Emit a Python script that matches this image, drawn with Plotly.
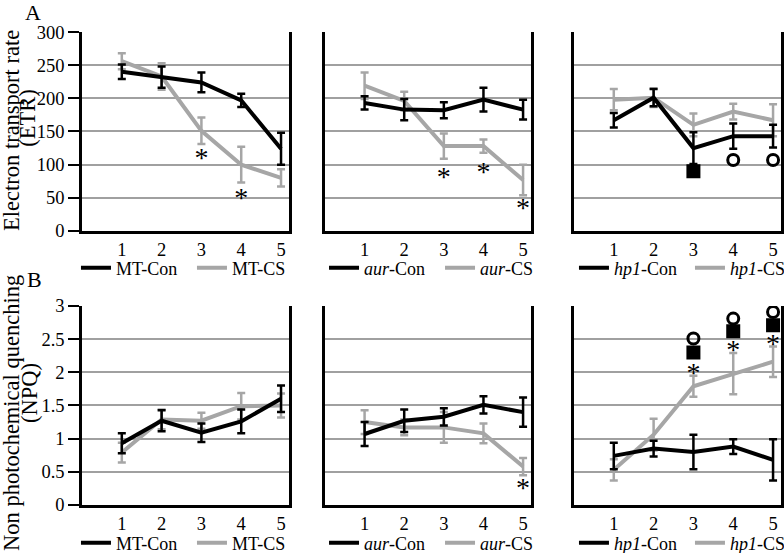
import plotly.graph_objects as go
from plotly.subplots import make_subplots

# x positions (time points)
days = [1, 2, 3, 4, 5]

# A: electron transport rate
etr_mt_con = [240, 232, 224, 197, 124]
etr_mt_con_err = [11, 16, 15, 10, 24]
etr_mt_cs = [256, 233, 151, 100, 80]
etr_mt_cs_err = [12, 20, 20, 27, 13]

etr_aur_con = [193, 183, 182, 198, 183]
etr_aur_con_err = [10, 16, 12, 18, 15]
etr_aur_cs = [219, 196, 128, 128, 77]
etr_aur_cs_err = [20, 14, 19, 10, 23]

etr_hp1_con = [167, 201, 125, 143, 143]
etr_hp1_con_err = [11, 13, 24, 19, 17]
etr_hp1_cs = [198, 201, 160, 180, 167]
etr_hp1_cs_err = [16, 14, 17, 12, 24]

# B: non photochemical quenching
npq_mt_con = [0.93, 1.27, 1.09, 1.26, 1.60]
npq_mt_con_err = [0.15, 0.16, 0.14, 0.18, 0.2]
npq_mt_cs = [0.79, 1.29, 1.27, 1.49, 1.50]
npq_mt_cs_err = [0.15, 0.15, 0.12, 0.2, 0.18]

npq_aur_con = [1.07, 1.27, 1.33, 1.51, 1.40]
npq_aur_con_err = [0.18, 0.17, 0.13, 0.13, 0.22]
npq_aur_cs = [1.25, 1.17, 1.17, 1.08, 0.58]
npq_aur_cs_err = [0.18, 0.12, 0.23, 0.15, 0.13]

npq_hp1_con = [0.74, 0.85, 0.80, 0.88, 0.68]
npq_hp1_con_err = [0.2, 0.12, 0.26, 0.11, 0.31]
npq_hp1_cs = [0.53, 1.06, 1.79, 1.98, 2.16]
npq_hp1_cs_err = [0.16, 0.24, 0.16, 0.31, 0.23]

# significance marks: (x, y) per panel (asterisk y = text anchor)
etr_mt_star = ([3, 4], [107, 47])
etr_aur_star = ([3, 4, 5], [78, 86, 31])
etr_hp1_square = ([3], [90])
etr_hp1_circle = ([4, 5], [107, 107])
npq_aur_star = ([5], [0.22])
npq_hp1_star = ([3, 4, 5], [1.96, 2.30, 2.40])
npq_hp1_square = ([3, 4, 5], [2.30, 2.62, 2.71])
npq_hp1_circle = ([3, 4, 5], [2.51, 2.81, 2.91])

strains = ["MT", "<i>aur</i>", "<i>hp1</i>"]

BLACK = "#000000"
GRAY = "#a6a6a6"
FONT = "Liberation Serif"

panels = [
    (1, 1, etr_mt_con, etr_mt_con_err, etr_mt_cs, etr_mt_cs_err),
    (1, 2, etr_aur_con, etr_aur_con_err, etr_aur_cs, etr_aur_cs_err),
    (1, 3, etr_hp1_con, etr_hp1_con_err, etr_hp1_cs, etr_hp1_cs_err),
    (2, 1, npq_mt_con, npq_mt_con_err, npq_mt_cs, npq_mt_cs_err),
    (2, 2, npq_aur_con, npq_aur_con_err, npq_aur_cs, npq_aur_cs_err),
    (2, 3, npq_hp1_con, npq_hp1_con_err, npq_hp1_cs, npq_hp1_cs_err),
]

fig = make_subplots(rows=2, cols=3)

for i, (r, c, con, con_err, cs, cs_err) in enumerate(panels):
    leg = "legend" if i == 0 else f"legend{i + 1}"
    name = strains[c - 1]
    fig.add_trace(go.Scatter(
        x=days, y=cs, mode="lines", name=name + "-CS",
        line=dict(color=GRAY, width=4),
        error_y=dict(type="data", array=cs_err, color=GRAY, thickness=2.5, width=4),
        legend=leg, legendrank=2,
    ), row=r, col=c)
    fig.add_trace(go.Scatter(
        x=days, y=con, mode="lines", name=name + "-Con",
        line=dict(color=BLACK, width=4),
        error_y=dict(type="data", array=con_err, color=BLACK, thickness=2.5, width=4),
        legend=leg, legendrank=1,
    ), row=r, col=c)


def add_stars(pos, r, c):
    fig.add_trace(go.Scatter(
        x=pos[0], y=pos[1], mode="text", text=["*"] * len(pos[0]),
        textfont=dict(family=FONT, size=28, color=BLACK),
        showlegend=False, hoverinfo="skip",
    ), row=r, col=c)


def add_marks(pos, symbol, r, c):
    fig.add_trace(go.Scatter(
        x=pos[0], y=pos[1], mode="markers",
        marker=dict(symbol=symbol, size=11, color=BLACK,
                    line=dict(color=BLACK, width=3)),
        showlegend=False, hoverinfo="skip",
    ), row=r, col=c)


add_stars(etr_mt_star, 1, 1)
add_stars(etr_aur_star, 1, 2)
add_marks(etr_hp1_square, "square", 1, 3)
add_marks(etr_hp1_circle, "circle-open", 1, 3)
add_stars(npq_aur_star, 2, 2)
add_stars(npq_hp1_star, 2, 3)
add_marks(npq_hp1_square, "square", 2, 3)
add_marks(npq_hp1_circle, "circle-open", 2, 3)

x_domains = [[0.1046, 0.3686], [0.4145, 0.6773], [0.7321, 0.9962]]
y_domains = [[0.5823, 0.9421], [0.0868, 0.4467]]
legend_x = [0.0969, 0.4133, 0.7321]

for r in (1, 2):
    for c in (1, 2, 3):
        fig.update_xaxes(
            domain=x_domains[c - 1], range=[0, 5.2],
            tickvals=days, ticks="", showgrid=False,
            showline=True, linecolor=BLACK, linewidth=2.5,
            tickfont=dict(family=FONT, size=18.5, color=BLACK),
            zeroline=False, fixedrange=True, automargin=False,
            row=r, col=c)
        if r == 1:
            yr, dt = [0, 300], 50
        else:
            yr, dt = [0, 3], 0.5
        fig.update_yaxes(
            domain=y_domains[r - 1], range=yr, dtick=dt,
            showgrid=True, gridcolor="#a0a0a0", gridwidth=1.5,
            showline=True, linecolor=BLACK, linewidth=2.5, mirror=True,
            ticks="outside" if c == 1 else "", ticklen=11, tickwidth=2,
            tickcolor=BLACK, showticklabels=(c == 1),
            tickfont=dict(family=FONT, size=18.5, color=BLACK),
            zeroline=False, fixedrange=True, automargin=False,
            row=r, col=c)

legend_style = dict(
    orientation="h", xanchor="left", yanchor="middle",
    font=dict(family=FONT, size=18, color=BLACK),
    bgcolor="rgba(0,0,0,0)", entrywidth=71, entrywidthmode="pixels",
    itemwidth=30, tracegroupgap=0,
)
layout_legends = {}
for i in range(6):
    key = "legend" if i == 0 else f"legend{i + 1}"
    r = i // 3
    c = i % 3
    layout_legends[key] = dict(
        legend_style,
        x=legend_x[c],
        y=0.5154 if r == 0 else 0.018,
    )

fig.update_layout(
    width=784, height=553,
    margin=dict(l=0, r=0, t=0, b=0, autoexpand=False),
    paper_bgcolor="white", plot_bgcolor="white",
    font=dict(family=FONT, size=18, color=BLACK),
    **layout_legends,
)

title_font = dict(family=FONT, size=22.5, color=BLACK)
for text, x, y in [
    ("Electron transport rate", 0.0153, 0.765),
    ("(ETR)", 0.0357, 0.787),
    ("Non photochemical quenching", 0.0153, 0.2532),
    ("(NPQ)", 0.0370, 0.2893),
]:
    fig.add_annotation(
        text=text, textangle=-90, x=x, y=y, xref="paper", yref="paper",
        xanchor="center", yanchor="middle", showarrow=False, font=title_font,
    )

fig.add_annotation(
    text="A", x=0.0421, y=0.9765, xref="paper", yref="paper",
    xanchor="center", yanchor="middle", showarrow=False,
    font=dict(family=FONT, size=22, color=BLACK),
)
fig.add_annotation(
    text="B", x=0.0434, y=0.4937, xref="paper", yref="paper",
    xanchor="center", yanchor="middle", showarrow=False,
    font=dict(family=FONT, size=22, color=BLACK),
)

# drop the default page margin so the figure fills the window exactly
fig.write_html("out.html", config={"displayModeBar": False},
               post_script="document.body.style.margin = '0';")
